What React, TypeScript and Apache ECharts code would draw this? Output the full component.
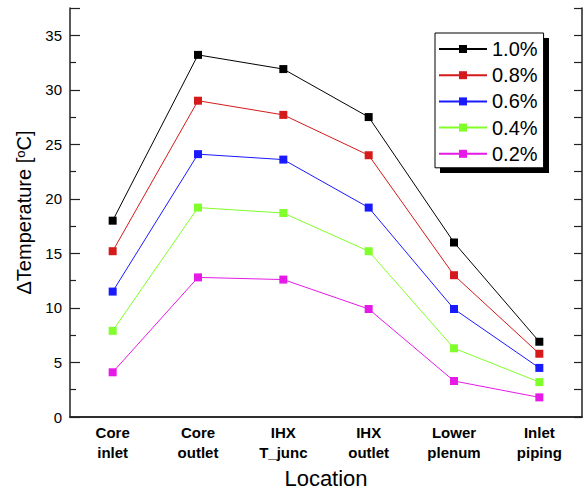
import React, { useEffect, useRef } from "react";
import * as echarts from "echarts";

const categories = ["Core\ninlet", "Core\noutlet", "IHX\nT_junc", "IHX\noutlet", "Lower\nplenum", "Inlet\npiping"];
const seriesNames = ["1.0%", "0.8%", "0.6%", "0.4%", "0.2%"];
const s10 = [18.0, 33.2, 31.9, 27.5, 16.0, 6.9];
const s08 = [15.2, 29.0, 27.7, 24.0, 13.0, 5.8];
const s06 = [11.5, 24.1, 23.6, 19.2, 9.9, 4.5];
const s04 = [7.9, 19.2, 18.7, 15.2, 6.3, 3.2];
const s02 = [4.1, 12.8, 12.6, 9.9, 3.3, 1.8];
const seriesData = [s10, s08, s06, s04, s02];
const colors = ["#000000", "#d41a1a", "#1a1aff", "#80ff2a", "#e61ae6"];

const FONT = "'Liberation Sans', Arial, sans-serif";
const AXIS_COLOR = "#222";

export default function App() {
  const ref = useRef<HTMLDivElement>(null);
  useEffect(() => {
    if (!ref.current) return;
    const chart = echarts.init(ref.current, undefined, { renderer: "svg" });
    chart.setOption({
      animation: false,
      textStyle: { fontFamily: FONT },
      grid: { left: 70, right: 2, top: 8, bottom: 73, containLabel: false },
      graphic: [
        {
          type: "rect",
          shape: { x: 440, y: 38, width: 109, height: 135 },
          style: { fill: "#000" },
          z: 3,
        },
      ],
      legend: {
        orient: "vertical",
        left: 435,
        top: 33,
        padding: [6, 6, 4, 3],
        itemGap: 6.2,
        itemWidth: 48,
        itemHeight: 10,
        backgroundColor: "#fff",
        borderColor: "#000",
        borderWidth: 1,
        borderRadius: 0,
        z: 4,
        textStyle: { fontSize: 20, color: "#000", fontFamily: FONT, padding: [0, 0, 0, 0] },
        data: seriesNames,
      },
      xAxis: [
        {
          type: "category",
          data: categories,
          boundaryGap: true,
          position: "bottom",
          name: "Location",
          nameLocation: "middle",
          nameGap: 50,
          nameTextStyle: { fontSize: 22, color: "#000", fontFamily: FONT },
          axisLine: { lineStyle: { color: AXIS_COLOR, width: 1.5 } },
          axisTick: { alignWithLabel: true, inside: true, length: 8, lineStyle: { color: AXIS_COLOR, width: 1.2 } },
          axisLabel: { fontSize: 15, fontWeight: "bold", color: "#000", lineHeight: 20, margin: 5, interval: 0, fontFamily: FONT },
          splitLine: { show: false },
        },
        {
          type: "category",
          data: categories,
          boundaryGap: true,
          position: "top",
          axisLine: { lineStyle: { color: AXIS_COLOR, width: 1.5 } },
          axisTick: { alignWithLabel: true, inside: true, length: 8, lineStyle: { color: AXIS_COLOR, width: 1.2 } },
          axisLabel: { show: false },
          splitLine: { show: false },
        },
      ],
      yAxis: [
        {
          type: "value",
          min: 0,
          max: 37.5,
          interval: 5,
          position: "left",
          name: "{a|ΔTemperature [}{s|o}{a|C]}",
          nameLocation: "middle",
          nameGap: 32,
          nameTextStyle: {
            rich: {
              a: { fontSize: 20, color: "#000", fontFamily: FONT },
              s: { fontSize: 13, color: "#000", fontFamily: FONT, verticalAlign: "top", padding: [0, 0, 7, 0] },
            },
          },
          axisLine: { show: true, lineStyle: { color: AXIS_COLOR, width: 1.5 } },
          axisTick: { show: true, inside: true, length: 10, lineStyle: { color: AXIS_COLOR, width: 1.2 } },
          minorTick: { show: true, splitNumber: 2, length: 6, lineStyle: { color: AXIS_COLOR, width: 1.2 } },
          axisLabel: {
            fontSize: 15,
            color: "#000",
            margin: 8,
            fontFamily: FONT,
            formatter: (v: number) => (v % 5 === 0 && v <= 35 ? String(v) : ""),
          },
          splitLine: { show: false },
        },
        {
          type: "value",
          min: 0,
          max: 37.5,
          interval: 2.5,
          position: "right",
          axisLine: { show: true, lineStyle: { color: AXIS_COLOR, width: 1.5 } },
          axisTick: { show: true, inside: true, length: 8, lineStyle: { color: AXIS_COLOR, width: 1.2 } },
          axisLabel: { show: false },
          splitLine: { show: false },
        },
      ],
      series: seriesNames.map((name, i) => ({
        name,
        type: "line",
        xAxisIndex: 0,
        yAxisIndex: 0,
        data: seriesData[i],
        symbol: "rect",
        symbolSize: 8,
        color: colors[i],
        itemStyle: { color: colors[i] },
        lineStyle: { color: colors[i], width: 1 },
        z: 2 + (5 - i) * 0.01,
      })),
    });
    return () => chart.dispose();
  }, []);
  return <div ref={ref} style={{ width: 584, height: 494, position: "absolute", left: 0, top: 0 }} />;
}
